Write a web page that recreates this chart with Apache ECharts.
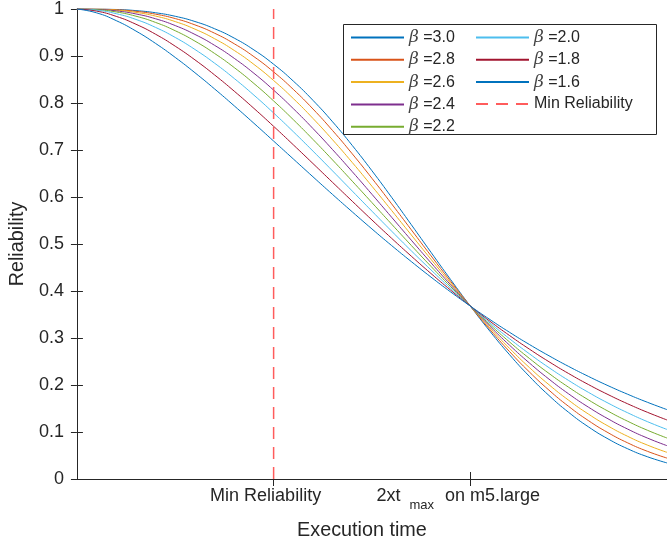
<!DOCTYPE html>
<html>
<head>
<meta charset="utf-8">
<script src="https://cdn.jsdelivr.net/npm/echarts@6/dist/echarts.min.js"></script>
<style>html,body{margin:0;padding:0;background:#fff;}#c{width:667px;height:548px;}</style>
</head>
<body>
<div id="c"></div>
<script>
// Execution time (normalised, 1 = 2xt_max on m5.large)
const tVals = [0,0.05,0.1,0.15,0.2,0.25,0.3,0.35,0.4,0.45,0.5,0.55,0.6,0.65,0.7,0.75,0.8,0.85,0.9,0.95,1.0,1.05,1.1,1.15,1.2,1.25,1.3,1.35,1.4,1.45,1.5];
// Reliability curves
const r30 = [1,0.9999,0.999,0.9966,0.992,0.9845,0.9734,0.958,0.938,0.9129,0.8825,0.8467,0.8057,0.7599,0.7096,0.6558,0.5993,0.5411,0.4824,0.4243,0.3679,0.3142,0.2642,0.2185,0.1776,0.1418,0.1111,0.0854,0.0643,0.0474,0.0342];
const r28 = [1,0.9998,0.9984,0.9951,0.989,0.9796,0.9662,0.9485,0.926,0.8986,0.8662,0.829,0.7873,0.7413,0.6918,0.6397,0.5854,0.5302,0.475,0.4205,0.3679,0.3178,0.2709,0.2279,0.189,0.1545,0.1244,0.0986,0.0769,0.059,0.0445];
const r26 = [1,0.9996,0.9975,0.9928,0.9849,0.9732,0.9572,0.9368,0.9118,0.8821,0.8479,0.8095,0.7672,0.7216,0.6733,0.6229,0.5713,0.5193,0.4675,0.4168,0.3679,0.3214,0.2777,0.2373,0.2006,0.1676,0.1383,0.1128,0.0908,0.0722,0.0567];
const r24 = [1,0.9992,0.996,0.9895,0.9792,0.9647,0.9459,0.9227,0.895,0.8632,0.8274,0.7881,0.7457,0.7007,0.6538,0.6057,0.5569,0.5081,0.46,0.4131,0.3679,0.3249,0.2845,0.247,0.2125,0.1811,0.153,0.1281,0.1062,0.0872,0.0709];
const r22 = [1,0.9986,0.9937,0.9847,0.9714,0.9537,0.9317,0.9054,0.8753,0.8415,0.8044,0.7646,0.7225,0.6787,0.6336,0.588,0.5422,0.4969,0.4524,0.4093,0.3679,0.3285,0.2913,0.2567,0.2246,0.1952,0.1685,0.1444,0.1229,0.1038,0.0872];
const r20 = [1,0.9975,0.99,0.9778,0.9608,0.9394,0.9139,0.8847,0.8521,0.8167,0.7788,0.739,0.6977,0.6554,0.6126,0.5698,0.5273,0.4855,0.4449,0.4056,0.3679,0.3321,0.2982,0.2665,0.2369,0.2096,0.1845,0.1616,0.1409,0.1221,0.1054];
const r18 = [1,0.9955,0.9843,0.9676,0.9463,0.9208,0.8918,0.8597,0.8251,0.7885,0.7504,0.7111,0.6712,0.631,0.5909,0.5511,0.5121,0.4741,0.4372,0.4018,0.3679,0.3356,0.3051,0.2764,0.2495,0.2244,0.2011,0.1797,0.16,0.142,0.1256];
const r16 = [1,0.9918,0.9752,0.9531,0.9267,0.8969,0.8644,0.8299,0.7939,0.7568,0.719,0.681,0.643,0.6053,0.5683,0.532,0.4967,0.4626,0.4296,0.398,0.3679,0.3392,0.312,0.2863,0.2622,0.2395,0.2184,0.1986,0.1803,0.1633,0.1476];
const betaNames = ['β=3.0','β=2.8','β=2.6','β=2.4','β=2.2','β=2.0','β=1.8','β=1.6'];
const betaCurves = [r30,r28,r26,r24,r22,r20,r18,r16];
const colors = ['#0072BD','#D95319','#EDB120','#7E2F8E','#77AC30','#4DBEEE','#A2142F','#0072BD'];
const minRelT = 0.5;
const minRelName = 'Min Reliability';
const xTickVals = [0.5, 1.0];
const yTicks = [0,0.1,0.2,0.3,0.4,0.5,0.6,0.7,0.8,0.9,1];

const FONT = 'Liberation Sans, Arial, Helvetica, sans-serif';
const AX = '#262626';

const series = betaCurves.map((arr, i) => ({
  name: betaNames[i], type: 'line', smooth: true, symbol: 'none',
  lineStyle: {width: 1, color: colors[i]}, itemStyle: {color: colors[i]},
  data: tVals.map((t, j) => [t, arr[j]]), z: 2
}));
series.push({
  name: minRelName, type: 'line', symbol: 'none',
  lineStyle: {width: 1.5, color: '#ff5c5c', type: [12, 8]}, itemStyle: {color: '#ff5c5c'},
  data: [[minRelT, 0], [minRelT, 1]], z: 3
});

const legendFmt = name => {
  if (name.indexOf('β') === 0) return '{i|β} =' + name.split('=')[1];
  return name;
};
const legendText = {
  fontSize: 16, color: AX, fontFamily: FONT, lineHeight: 16,
  rich: {i: {fontSize: 17, fontStyle: 'italic', fontFamily: 'DejaVu Serif, Liberation Serif, serif', color: '#444', lineHeight: 16}}
};
const legendCommon = {
  orient: 'vertical', top: 29, itemWidth: 53, itemHeight: 16, itemGap: 5.3, padding: 0,
  formatter: legendFmt, textStyle: legendText, z: 6, selectedMode: false,
  itemStyle: {opacity: 0, borderWidth: 0}
};

const chart = echarts.init(document.getElementById('c'), null, {renderer: 'canvas'});
chart.setOption({
  animation: false,
  backgroundColor: '#fff',
  color: colors,
  grid: {left: 76, top: 9, width: 595.5, height: 470, containLabel: false},
  xAxis: [{
    type: 'value', min: 0, max: 1.5, position: 'bottom',
    name: 'Execution time', nameLocation: 'middle', nameGap: 42,
    nameTextStyle: {fontSize: 19.8, color: AX, fontFamily: FONT, padding: [0, 20, 0, 0]},
    axisLine: {show: true, lineStyle: {color: AX, width: 1}},
    axisTick: {show: true, inside: true, length: 7, customValues: xTickVals, lineStyle: {color: AX}},
    axisLabel: {
      show: true, customValues: xTickVals, margin: 8,
      formatter: v => Math.abs(v - 0.5) < 1e-6 ? '{n|Min Reliability}{s1|}' : '{n|2xt }{sub|max}{n| on m5.large}{s2|}',
      rich: {
        n: {fontSize: 18, color: AX, fontFamily: FONT, lineHeight: 22, verticalAlign: 'top'},
        sub: {fontSize: 13, color: AX, fontFamily: FONT, lineHeight: 14, verticalAlign: 'top', padding: [12, 6, 0, 4]},
        s1: {width: 16}, s2: {width: 24}
      }
    },
    splitLine: {show: false}
  }, {
    type: 'value', min: 0, max: 1.5, position: 'top',
    axisLine: {show: true, lineStyle: {color: AX, width: 1}},
    axisTick: {show: true, inside: true, length: 7, customValues: xTickVals, lineStyle: {color: AX}},
    axisLabel: {show: false}, splitLine: {show: false}
  }],
  yAxis: [{
    type: 'value', min: 0, max: 1, interval: 0.1, position: 'left',
    name: 'Reliability', nameLocation: 'middle', nameGap: 43, nameRotate: 90,
    nameTextStyle: {fontSize: 19.8, color: AX, fontFamily: FONT},
    axisLine: {show: true, lineStyle: {color: AX, width: 1}},
    axisTick: {show: true, inside: true, length: 6, lineStyle: {color: AX}},
    axisLabel: {show: true, margin: 13, fontSize: 18, color: AX, fontFamily: FONT,
      formatter: v => { const k = yTicks.find(x => Math.abs(x - v) < 1e-6); return k === undefined ? '' : String(k); }},
    splitLine: {show: false}
  }, {
    type: 'value', min: 0, max: 1, interval: 0.1, position: 'right',
    axisLine: {show: true, lineStyle: {color: AX, width: 1}},
    axisTick: {show: true, inside: true, length: 6, lineStyle: {color: AX}},
    axisLabel: {show: false}, splitLine: {show: false}
  }],
  legend: [
    Object.assign({}, legendCommon, {left: 350, data: betaNames.slice(0, 5)}),
    Object.assign({}, legendCommon, {left: 475, data: betaNames.slice(5).concat([minRelName])})
  ],
  graphic: [{
    type: 'rect', left: 343, top: 24, z: 5,
    shape: {width: 313, height: 110},
    style: {fill: '#fff', stroke: AX, lineWidth: 1}
  }],
  series: series
});
</script>
</body>
</html>
